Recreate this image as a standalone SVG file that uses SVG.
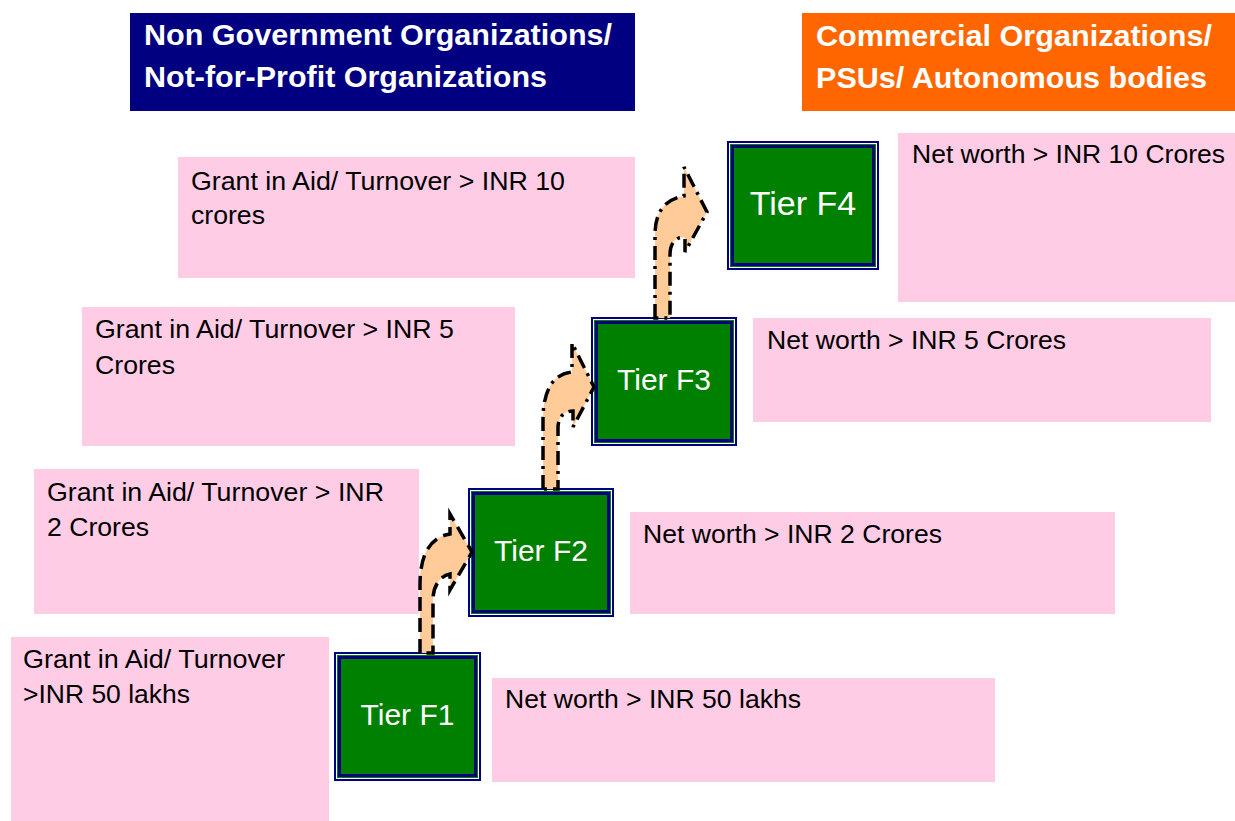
<svg xmlns="http://www.w3.org/2000/svg" width="1235" height="821" viewBox="0 0 1235 821">
<style>
.pink{fill:#FFCCE6}
.t{font-family:Arial,"Liberation Sans",Helvetica,sans-serif;font-size:26.5px;fill:#000}
.h{font-family:Arial,"Liberation Sans",Helvetica,sans-serif;font-size:29px;font-weight:bold;fill:#fff}
.tier{font-family:Arial,"Liberation Sans",Helvetica,sans-serif;font-size:30px;fill:#fff;text-anchor:middle}
.nv{fill:#000080}.wh{fill:#fff}.gr{fill:#008000}
.arr{fill:#FFCC99;stroke:#000;stroke-width:3.5;stroke-linejoin:miter}
.dash{stroke-dasharray:14 7}
.dashdot{stroke-dasharray:14 6 3 6}
</style>
<rect width="1235" height="821" fill="#fff"/>

<g id="hdr-ngo">
<rect x="130" y="13" width="505" height="98" fill="#000080"/>
<text class="h" x="144" y="45" textLength="468" lengthAdjust="spacingAndGlyphs">Non Government Organizations/</text>
<text class="h" x="144" y="87" textLength="403" lengthAdjust="spacingAndGlyphs">Not-for-Profit Organizations</text>
</g>
<g id="hdr-com">
<rect x="802" y="13" width="433" height="98" fill="#FF6600"/>
<text class="h" x="816" y="46" textLength="396" lengthAdjust="spacingAndGlyphs">Commercial Organizations/</text>
<text class="h" x="816" y="88" textLength="391" lengthAdjust="spacingAndGlyphs">PSUs/ Autonomous bodies</text>
</g>

<g id="ngo-f4">
<rect class="pink" x="178" y="157" width="457" height="121"/>
<text class="t" x="191" y="190" textLength="374" lengthAdjust="spacingAndGlyphs">Grant in Aid/ Turnover &gt; INR 10</text>
<text class="t" x="191" y="224" textLength="74" lengthAdjust="spacingAndGlyphs">crores</text>
</g>
<g id="ngo-f3">
<rect class="pink" x="82" y="307" width="433" height="139"/>
<text class="t" x="95" y="338" textLength="359" lengthAdjust="spacingAndGlyphs">Grant in Aid/ Turnover &gt; INR 5</text>
<text class="t" x="95" y="374" textLength="80" lengthAdjust="spacingAndGlyphs">Crores</text>
</g>
<g id="ngo-f2">
<rect class="pink" x="34" y="469" width="385" height="145"/>
<text class="t" x="47" y="501" textLength="337" lengthAdjust="spacingAndGlyphs">Grant in Aid/ Turnover &gt; INR</text>
<text class="t" x="47" y="536" textLength="102" lengthAdjust="spacingAndGlyphs">2 Crores</text>
</g>
<g id="ngo-f1">
<rect class="pink" x="11" y="637" width="318" height="184"/>
<text class="t" x="23" y="668" textLength="262" lengthAdjust="spacingAndGlyphs">Grant in Aid/ Turnover</text>
<text class="t" x="23" y="703" textLength="167" lengthAdjust="spacingAndGlyphs">&gt;INR 50 lakhs</text>
</g>

<g id="com-f4">
<rect class="pink" x="898" y="133" width="337" height="169"/>
<text class="t" x="912" y="163" textLength="313" lengthAdjust="spacingAndGlyphs">Net worth &gt; INR 10 Crores</text>
</g>
<g id="com-f3">
<rect class="pink" x="753" y="318" width="458" height="104"/>
<text class="t" x="767" y="349" textLength="299" lengthAdjust="spacingAndGlyphs">Net worth &gt; INR 5 Crores</text>
</g>
<g id="com-f2">
<rect class="pink" x="630" y="512" width="485" height="102"/>
<text class="t" x="643" y="543" textLength="299" lengthAdjust="spacingAndGlyphs">Net worth &gt; INR 2 Crores</text>
</g>
<g id="com-f1">
<rect class="pink" x="492" y="678" width="503" height="104"/>
<text class="t" x="505" y="708" textLength="296" lengthAdjust="spacingAndGlyphs">Net worth &gt; INR 50 lakhs</text>
</g>

<g id="tier-f1">
<rect class="nv" x="334" y="652" width="147" height="129"/>
<rect class="wh" x="336" y="654" width="143" height="125"/>
<rect class="gr" x="337" y="655" width="141" height="123"/>
<rect class="nv" x="338" y="656" width="139" height="121"/>
<rect class="gr" x="341" y="659" width="133" height="115"/>
<text class="tier" x="407.5" y="725">Tier F1</text>
</g>
<g id="tier-f2">
<rect class="nv" x="468" y="488" width="146" height="129"/>
<rect class="wh" x="470" y="490" width="142" height="125"/>
<rect class="gr" x="471" y="491" width="140" height="123"/>
<rect class="nv" x="472" y="492" width="138" height="121"/>
<rect class="gr" x="475" y="495" width="132" height="115"/>
<text class="tier" x="541" y="561">Tier F2</text>
</g>
<g id="tier-f3">
<rect class="nv" x="591" y="317" width="146" height="129"/>
<rect class="wh" x="593" y="319" width="142" height="125"/>
<rect class="gr" x="594" y="320" width="140" height="123"/>
<rect class="nv" x="595" y="321" width="138" height="121"/>
<rect class="gr" x="598" y="324" width="132" height="115"/>
<text class="tier" x="664" y="390">Tier F3</text>
</g>
<g id="tier-f4">
<rect class="nv" x="727" y="141" width="152" height="129"/>
<rect class="wh" x="729" y="143" width="148" height="125"/>
<rect class="gr" x="730" y="144" width="146" height="123"/>
<rect class="nv" x="731" y="145" width="144" height="121"/>
<rect class="gr" x="734" y="148" width="138" height="115"/>
<text class="tier" x="803" y="215" style="font-size:34px">Tier F4</text>
</g>

<g id="connectors">
<path class="arr dash" d="M420,653 L420,585 C420,553 431,537 450,534 L450,514 L472,552 L450,590 L450,574 C440,576 433,586 433,600 L433,653 Z"/>
<path class="arr dashdot" d="M543,489 L543,420 C543,390 553,374 572,372 L572,343 L594,387 L573,427 L573,411 C565,411 558,416 558,428 L558,489 Z"/>
<path class="arr dashdot" d="M655,318 L655,235 C655,212 665,199 684,196 L684,167 L707,212 L685,252 L685,238 C677,236 670,242 670,255 L670,318 Z"/>
</g>
</svg>
